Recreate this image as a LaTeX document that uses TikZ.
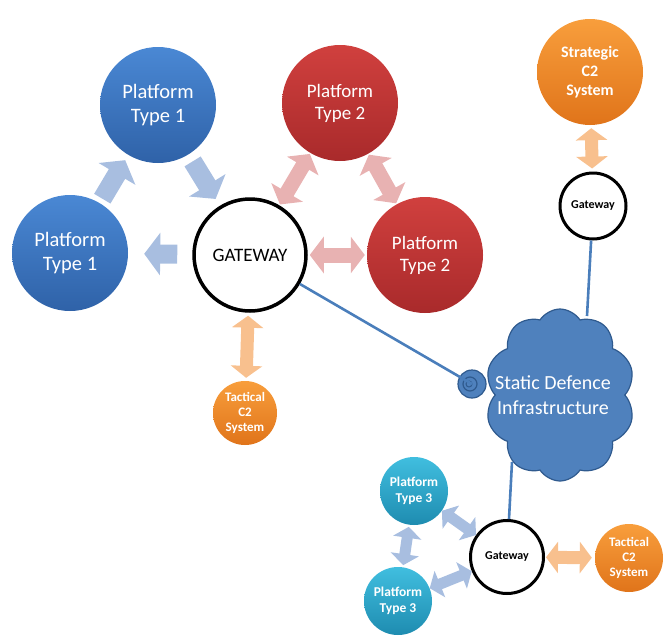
\documentclass[tikz,border=0pt]{standalone}
\usepackage{fontspec}
\setmainfont{Carlito}
\usetikzlibrary{arrows.meta,shapes.symbols}
\definecolor{bluetop}{HTML}{4A88D4}
\definecolor{bluebot}{HTML}{2F62A8}
\definecolor{redtop}{HTML}{D0403E}
\definecolor{redbot}{HTML}{A92A2B}
\definecolor{orgtop}{HTML}{F89E3C}
\definecolor{orgbot}{HTML}{E0741A}
\definecolor{cyantop}{HTML}{40BEDF}
\definecolor{cyanbot}{HTML}{1E8CB0}
\definecolor{arrblue}{HTML}{A8BEE0}
\definecolor{arrred}{HTML}{E8B2B2}
\definecolor{arrorg}{HTML}{F8C08E}
\definecolor{linkblue}{HTML}{4A7EBB}
\definecolor{cloudfill}{HTML}{4F81BD}
\definecolor{clouddraw}{HTML}{2F5A8E}
\tikzset{
  disc/.style={circle, inner sep=0pt, draw=none, text=white, align=center},
  ptone/.style={disc, minimum size=116pt, top color=bluetop, bottom color=bluebot, font=\fontsize{20.5}{24}\selectfont},
  pttwo/.style={disc, minimum size=116pt, top color=redtop, bottom color=redbot, font=\fontsize{19}{22}\selectfont},
  ptthree/.style={disc, minimum size=68pt, top color=cyantop, bottom color=cyanbot, font=\fontsize{13.5}{15.5}\selectfont\bfseries},
  ctwo/.style={disc, top color=orgtop, bottom color=orgbot, font=\fontsize{13}{15}\selectfont\bfseries},
  gwbig/.style={circle, inner sep=0pt, draw=black, line width=3.5pt, fill=white, minimum size=112pt, font=\fontsize{19}{22}\selectfont},
  gwsmall/.style={circle, inner sep=0pt, draw=black, line width=3pt, fill=white, font=\fontsize{12}{14}\selectfont\bfseries},
  oneway/.style={draw=arrblue, line width=19pt, -{Triangle[length=16pt,width=42pt]}},
  twored/.style={draw=arrred, line width=15pt, {Triangle[length=14pt,width=36pt]}-{Triangle[length=14pt,width=36pt]}},
  twoorg/.style={draw=arrorg, line width=13pt, {Triangle[length=12pt,width=31pt]}-{Triangle[length=12pt,width=31pt]}},
  twoblue/.style={draw=arrblue, line width=11pt, {Triangle[length=11pt,width=28pt]}-{Triangle[length=11pt,width=28pt]}},
  link/.style={draw=linkblue, line width=2.6pt}
}
\begin{document}
\begin{tikzpicture}[x=1pt,y=-1pt]
\useasboundingbox (0,0) rectangle (666,637);

% main cluster
\node[ptone] (p1t) at (158,105) {Platform\\Type 1};
\node[ptone] (p1l) at (70,253) {Platform\\Type 1};
\node[pttwo] (p2t) at (340,103) {Platform\\Type 2};
\node[pttwo] (p2r) at (425,255) {Platform\\Type 2};
\node[gwbig] (gw) at (250,255) {GATEWAY};
\node[ctwo, minimum size=64pt] (tac1) at (245,413) {Tactical\\C2\\System};

% strategic
\node[ctwo, minimum size=106pt, font=\fontsize{16}{19}\selectfont\bfseries] (strat) at (590,72) {Strategic\\C2\\System};
\node[gwsmall, minimum size=66pt] (gwt) at (593,206) {Gateway};

% cloud
\node[cloud, cloud puffs=10, cloud puff arc=115, minimum width=150pt, minimum height=172pt, inner sep=0pt,
      fill=cloudfill, draw=clouddraw, line width=1.2pt] (cloud) at (560,395) {};
\node[text=white, align=center, font=\fontsize{20}{25}\selectfont] (cloudtxt) at (553,395) {Static Defence\\Infrastructure};
\node[circle, minimum size=28pt, inner sep=0pt, fill=cloudfill, draw=clouddraw, line width=1.2pt] (port) at (472,384) {};
\node[circle, minimum size=14pt, inner sep=0pt, draw=clouddraw, line width=1.2pt] (portin) at (470,384) {};
\node[circle, minimum size=6pt, inner sep=0pt, draw=clouddraw, line width=1pt] (portcore) at (469,384) {};

% bottom cluster
\node[gwsmall, minimum size=73pt] (gwb) at (507,557) {Gateway};
\node[ptthree] (p3t) at (414,491) {Platform\\Type 3};
\node[ptthree] (p3b) at (398,601) {Platform\\Type 3};
\node[ctwo, minimum size=68pt] (tac2) at (629,558) {Tactical\\C2\\System};

\coordinate (ctop) at (587,316);
\coordinate (cbot) at (512,462);

% links
\draw[link] (gw) -- (port.center);
\draw[link] (gwt) -- (ctop);
\draw[link] (gwb) -- (cbot);

% blue one-way arrows
\draw[oneway, shorten <=5pt, shorten >=6pt] (p1l) -- (p1t);
\draw[oneway, shorten <=8pt, shorten >=8pt] (p1t) -- (gw);
\draw[oneway, shorten <=15pt, shorten >=16pt] (gw) -- (p1l);

% red double arrows
\draw[twored, shorten <=1pt, shorten >=1pt] (gw) -- (p2t);
\draw[twored, shorten <=1pt, shorten >=1pt] (p2t) -- (p2r);
\draw[twored, shorten <=2pt, shorten >=2pt] (gw) -- (p2r);

% orange double arrows
\draw[twoorg, shorten <=3pt, shorten >=3pt] (gw) -- (tac1);
\draw[twoorg, shorten <=3pt, shorten >=3pt] (strat) -- (gwt);
\draw[twoorg, shorten <=1pt, shorten >=3pt] (gwb) -- (tac2);

% blue double arrows
\draw[twoblue] (p3t) -- (gwb);
\draw[twoblue, shorten <=2pt, shorten >=2pt] (p3t) -- (p3b);
\draw[twoblue] (p3b) -- (gwb);
\end{tikzpicture}
\end{document}
